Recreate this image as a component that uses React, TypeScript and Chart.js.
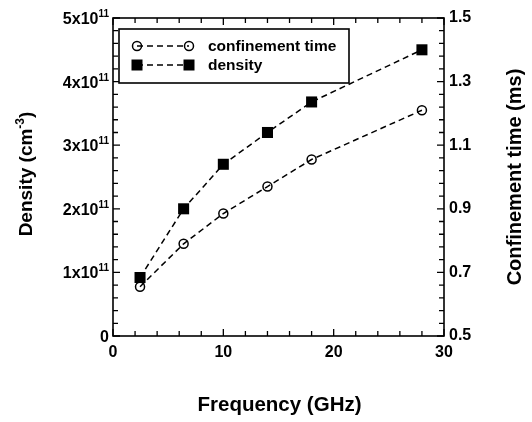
import React, { useEffect, useRef } from "react";
import { Chart, registerables } from "chart.js";

Chart.register(...registerables);

// ---- data ----
const frequencies = [2.45, 6.4, 10, 14, 18, 28];
const densityValues = [0.92e11, 2.0e11, 2.7e11, 3.2e11, 3.68e11, 4.5e11];
const confinementValues = [0.655, 0.79, 0.885, 0.97, 1.055, 1.21];

const xTicks = [0, 10, 20, 30];
const densityTicks = [0, 1e11, 2e11, 3e11, 4e11, 5e11];
const confinementTicks = [0.5, 0.7, 0.9, 1.1, 1.3, 1.5];

const seriesLabels = ["confinement time", "density"];
const xTitle = "Frequency (GHz)";
const leftTitle = ["Density (cm", "-3", ")"];
const rightTitle = "Confinement time (ms)";

const FONT = "'Liberation Sans', Arial, Helvetica, sans-serif";
const DASH = [6, 4];

type Seg = { text: string; size: number; dy: number };

function segWidth(ctx: CanvasRenderingContext2D, segs: Seg[]) {
  let w = 0;
  for (const s of segs) {
    ctx.font = `bold ${s.size}px ${FONT}`;
    w += ctx.measureText(s.text).width;
  }
  return w;
}

function drawSegs(ctx: CanvasRenderingContext2D, segs: Seg[], x: number, y: number) {
  let cx = x;
  for (const s of segs) {
    ctx.font = `bold ${s.size}px ${FONT}`;
    ctx.fillText(s.text, cx, y + s.dy);
    cx += ctx.measureText(s.text).width;
  }
}

function near(v: number, arr: number[], eps: number) {
  return arr.some((a) => Math.abs(a - v) < eps);
}

const framePlugin = {
  id: "framePlugin",
  afterDraw(chart: any) {
    const { ctx, chartArea: a, scales } = chart;
    const sx = scales.x;
    const yl = scales.yL;
    const yr = scales.yR;
    ctx.save();
    ctx.strokeStyle = "#000";
    ctx.fillStyle = "#000";
    ctx.setLineDash([]);

    // ticks
    ctx.lineWidth = 1.3;
    ctx.beginPath();
    const xMin = xTicks[0];
    const xMax = xTicks[xTicks.length - 1];
    const xStep = (xTicks[1] - xTicks[0]) / 5;
    const nx = Math.round((xMax - xMin) / xStep);
    for (let i = 0; i <= nx; i++) {
      const v = xMin + i * xStep;
      const px = sx.getPixelForValue(v);
      const len = near(v, xTicks, 1e-6) ? 7 : 5;
      ctx.moveTo(px, a.bottom);
      ctx.lineTo(px, a.bottom - len);
      ctx.moveTo(px, a.top);
      ctx.lineTo(px, a.top + len);
    }
    const lMin = densityTicks[0];
    const lStep = (densityTicks[1] - densityTicks[0]) / 5;
    const nl = Math.round((densityTicks[densityTicks.length - 1] - lMin) / lStep);
    for (let i = 0; i <= nl; i++) {
      const v = lMin + i * lStep;
      const py = yl.getPixelForValue(v);
      const len = near(v, densityTicks, lStep / 100) ? 7 : 5;
      ctx.moveTo(a.left, py);
      ctx.lineTo(a.left + len, py);
    }
    const rMin = confinementTicks[0];
    const rStep = (confinementTicks[1] - confinementTicks[0]) / 5;
    const nr = Math.round((confinementTicks[confinementTicks.length - 1] - rMin) / rStep);
    for (let i = 0; i <= nr; i++) {
      const v = rMin + i * rStep;
      const py = yr.getPixelForValue(v);
      const len = near(v, confinementTicks, rStep / 100) ? 7 : 5;
      ctx.moveTo(a.right, py);
      ctx.lineTo(a.right - len, py);
    }
    ctx.stroke();

    // frame
    ctx.lineWidth = 1.6;
    ctx.strokeRect(a.left, a.top, a.right - a.left, a.bottom - a.top);

    // left tick labels with superscripts
    ctx.textBaseline = "alphabetic";
    ctx.textAlign = "left";
    for (const v of densityTicks) {
      const py = yl.getPixelForValue(v);
      let segs: Seg[];
      if (v === 0) {
        segs = [{ text: "0", size: 16, dy: 0 }];
      } else {
        const exp = Math.floor(Math.log10(v) + 1e-9);
        const mant = Math.round(v / Math.pow(10, exp));
        segs = [
          { text: `${mant}x10`, size: 16, dy: 0 },
          { text: `${exp}`, size: 10, dy: -7 },
        ];
      }
      const w = segWidth(ctx, segs);
      drawSegs(ctx, segs, a.left - 4 - w, py + 6);
    }

    // legend
    const lx = a.left + 6;
    const ly = a.top + 11;
    const lw = 230;
    const lh = 54;
    ctx.fillStyle = "#fff";
    ctx.fillRect(lx, ly, lw, lh);
    ctx.lineWidth = 1.6;
    ctx.strokeRect(lx, ly, lw, lh);
    ctx.fillStyle = "#000";
    const rows = [ly + 17, ly + 36];
    const x1 = lx + 18;
    const x2 = lx + 70;
    rows.forEach((ry, i) => {
      ctx.lineWidth = 1.5;
      ctx.setLineDash(DASH);
      ctx.beginPath();
      ctx.moveTo(x1, ry);
      ctx.lineTo(x2, ry);
      ctx.stroke();
      ctx.setLineDash([]);
      for (const mx of [x1, x2]) {
        if (i === 0) {
          ctx.beginPath();
          ctx.arc(mx, ry, 4.5, 0, Math.PI * 2);
          ctx.stroke();
        } else {
          ctx.fillRect(mx - 5.5, ry - 5.5, 11, 11);
        }
      }
      ctx.font = `bold 15.5px ${FONT}`;
      ctx.textBaseline = "middle";
      ctx.textAlign = "left";
      ctx.fillText(seriesLabels[i], lx + 89, ry + 1);
    });

    // axis titles
    const cy = (a.top + a.bottom) / 2;
    const cx = (a.left + a.right) / 2;
    ctx.textBaseline = "middle";
    ctx.textAlign = "center";
    ctx.font = `bold 20.5px ${FONT}`;
    ctx.fillText(xTitle, cx + 1, 405);

    ctx.textAlign = "left";
    ctx.textBaseline = "alphabetic";
    const lsegs: Seg[] = [
      { text: leftTitle[0], size: 19, dy: 0 },
      { text: leftTitle[1], size: 12, dy: -8 },
      { text: leftTitle[2], size: 19, dy: 0 },
    ];
    const lwid = segWidth(ctx, lsegs);
    ctx.save();
    ctx.translate(25 + 7, cy - 3);
    ctx.rotate(-Math.PI / 2);
    drawSegs(ctx, lsegs, -lwid / 2, 0);
    ctx.restore();

    ctx.save();
    ctx.translate(515, cy);
    ctx.rotate(-Math.PI / 2);
    ctx.textAlign = "center";
    ctx.textBaseline = "middle";
    ctx.font = `bold 20px ${FONT}`;
    ctx.fillText(rightTitle, 0, 0);
    ctx.restore();

    ctx.restore();
  },
};

export default function App() {
  const ref = useRef<HTMLCanvasElement | null>(null);

  useEffect(() => {
    document.body.style.margin = "0";
    const canvas = ref.current;
    if (!canvas) return;
    const tickFont = { family: FONT, size: 16, weight: "bold" as const };
    const chart = new Chart(canvas, {
      type: "scatter",
      data: {
        datasets: [
          {
            label: seriesLabels[0],
            data: frequencies.map((f, i) => ({ x: f, y: confinementValues[i] })),
            yAxisID: "yR",
            showLine: true,
            borderColor: "#000",
            borderWidth: 1.5,
            borderDash: DASH,
            pointStyle: "circle",
            pointRadius: 4.5,
            pointBorderWidth: 1.5,
            pointBackgroundColor: "rgba(0,0,0,0)",
            pointBorderColor: "#000",
          },
          {
            label: seriesLabels[1],
            data: frequencies.map((f, i) => ({ x: f, y: densityValues[i] })),
            yAxisID: "yL",
            showLine: true,
            borderColor: "#000",
            borderWidth: 1.5,
            borderDash: DASH,
            pointStyle: "rect",
            pointRadius: 7.8,
            pointBorderWidth: 0,
            pointBackgroundColor: "#000",
            pointBorderColor: "#000",
          },
        ],
      },
      options: {
        responsive: false,
        animation: false,
        layout: { padding: { top: 18, left: 0, right: 0, bottom: 0 } },
        plugins: {
          legend: { display: false },
          tooltip: { enabled: false },
        },
        scales: {
          x: {
            type: "linear",
            position: "bottom",
            min: xTicks[0],
            max: xTicks[xTicks.length - 1],
            grid: { display: false, drawTicks: false },
            border: { display: false },
            afterBuildTicks: (s: any) => {
              s.ticks = xTicks.map((v) => ({ value: v }));
            },
            afterFit: (s: any) => {
              s.height = 86;
            },
            ticks: {
              color: "#000",
              font: tickFont,
              padding: 7,
              maxRotation: 0,
              callback: (v: any) => String(v),
            },
          },
          yL: {
            type: "linear",
            position: "left",
            min: densityTicks[0],
            max: densityTicks[densityTicks.length - 1],
            grid: { display: false, drawTicks: false },
            border: { display: false },
            afterBuildTicks: (s: any) => {
              s.ticks = densityTicks.map((v) => ({ value: v }));
            },
            afterFit: (s: any) => {
              s.width = 113;
            },
            ticks: { display: false },
          },
          yR: {
            type: "linear",
            position: "right",
            min: confinementTicks[0],
            max: confinementTicks[confinementTicks.length - 1],
            grid: { display: false, drawTicks: false },
            border: { display: false },
            afterBuildTicks: (s: any) => {
              s.ticks = confinementTicks.map((v) => ({ value: v }));
            },
            afterFit: (s: any) => {
              s.width = 88;
            },
            ticks: {
              color: "#000",
              font: tickFont,
              padding: 5,
              callback: (v: any) => Number(v).toFixed(1),
            },
          },
        },
      },
      plugins: [framePlugin],
    });
    return () => chart.destroy();
  }, []);

  return (
    <div style={{ width: 532, height: 422, background: "#fff" }}>
      <canvas ref={ref} width={532} height={422} style={{ display: "block" }} />
    </div>
  );
}
